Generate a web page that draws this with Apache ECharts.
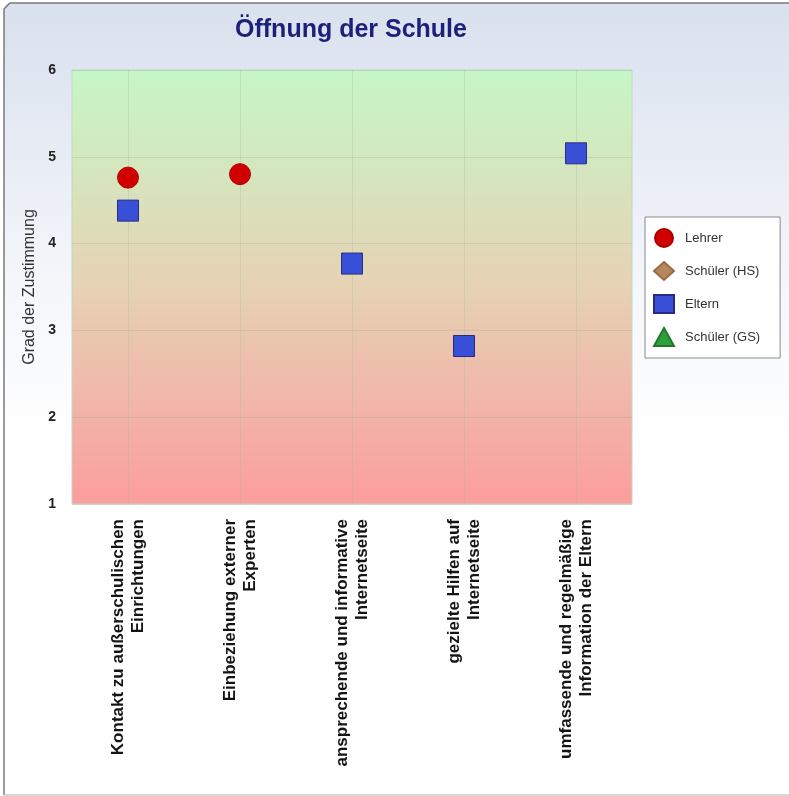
<!DOCTYPE html>
<html>
<head>
<meta charset="utf-8">
<script src="https://cdn.jsdelivr.net/npm/echarts@6/dist/echarts.min.js"></script>
<style>
  html, body { margin: 0; padding: 0; background: #ffffff; }
  #chart { width: 789px; height: 796px; }
</style>
</head>
<body>
<div id="chart"></div>
<script>
// Categories (x axis), two lines each
const categories = [
  'Kontakt zu außerschulischen\nEinrichtungen',
  'Einbeziehung externer\nExperten',
  'ansprechende und informative\nInternetseite',
  'gezielte Hilfen auf\nInternetseite',
  'umfassende und regelmäßige\nInformation der Eltern'
];

// Mean agreement per group (null = no value)
const lehrer = [4.76, 4.80, null, null, null];
const schuelerHS = [null, null, null, null, null];
const eltern = [4.38, null, 3.77, 2.82, 5.04];
const schuelerGS = [null, null, null, null, null];

// Y axis range
const yMin = 1;
const yMax = 6;
const yStep = 1;

const chart = echarts.init(document.getElementById('chart'), null, { renderer: 'canvas' });

const FONT = 'Arial, "Liberation Sans", sans-serif';

const option = {
  animation: false,
  textStyle: { fontFamily: FONT },
  graphic: [
    {
      type: 'rect',
      z: -10,
      silent: true,
      shape: { x: 4, y: 3, width: 785, height: 792, r: [6, 0, 0, 0] },
      style: {
        fill: new echarts.graphic.LinearGradient(0, 0, 0, 1, [
          { offset: 0, color: '#d9e1ee' },
          { offset: 0.35, color: '#f4f6fa' },
          { offset: 0.55, color: '#ffffff' },
          { offset: 1, color: '#ffffff' }
        ]),
        stroke: null
      }
    },
    {
      type: 'polyline',
      z: -9,
      silent: true,
      shape: { points: [[4, 795], [4, 9], [10, 3], [789, 3]] },
      style: { stroke: '#7a7a7a', lineWidth: 1.5, fill: null }
    },
    {
      type: 'line',
      z: -9,
      silent: true,
      shape: { x1: 4, y1: 795, x2: 789, y2: 795 },
      style: { stroke: '#c8c8c8', lineWidth: 1.5 }
    }
  ],
  title: {
    text: 'Öffnung der Schule',
    left: 346,
    textAlign: 'center',
    top: 13,
    textStyle: {
      fontFamily: FONT,
      fontSize: 25,
      fontWeight: 'bold',
      color: '#1c1f7c'
    }
  },
  legend: {
    orient: 'vertical',
    left: 645,
    top: 217,
    padding: [11, 20, 11, 8],
    itemGap: 13,
    itemWidth: 20,
    itemHeight: 18,
    backgroundColor: '#ffffff',
    borderColor: '#8a8a8a',
    borderWidth: 1,
    textStyle: { fontFamily: FONT, fontSize: 13, color: '#333333', padding: [0, 0, 0, 6] },
    data: ['Lehrer', 'Schüler (HS)', 'Eltern', 'Schüler (GS)']
  },
  grid: {
    left: 72,
    right: 157,
    top: 70,
    bottom: 292,
    show: true,
    borderColor: '#c4d6c4',
    borderWidth: 1,
    backgroundColor: new echarts.graphic.LinearGradient(0, 0, 0, 1, [
      { offset: 0, color: '#c6f7c6' },
      { offset: 0.5, color: '#e6d2b4' },
      { offset: 1, color: '#fb9d9d' }
    ])
  },
  xAxis: {
    type: 'category',
    data: categories,
    boundaryGap: true,
    axisLine: { show: false },
    axisTick: { show: false, alignWithLabel: true },
    splitLine: {
      show: true,
      alignWithLabel: true,
      lineStyle: { color: 'rgba(160,180,160,0.28)', width: 1 }
    },
    axisLabel: {
      rotate: 90,
      interval: 0,
      margin: 15,
      fontFamily: FONT,
      fontSize: 17,
      fontWeight: 'bold',
      lineHeight: 20,
      color: '#141414'
    }
  },
  yAxis: {
    type: 'value',
    min: yMin,
    max: yMax,
    interval: yStep,
    name: 'Grad der Zustimmung',
    nameLocation: 'middle',
    nameGap: 29,
    nameTextStyle: { fontFamily: FONT, fontSize: 16, color: '#333333' },
    axisLine: { show: false },
    axisTick: { show: false },
    splitLine: {
      show: true,
      lineStyle: { color: 'rgba(150,170,150,0.3)', width: 1 }
    },
    axisLabel: {
      margin: 16,
      fontFamily: FONT,
      fontSize: 14,
      fontWeight: 'bold',
      color: '#222222'
    }
  },
  series: [
    {
      name: 'Lehrer',
      type: 'scatter',
      symbol: 'circle',
      symbolSize: 21,
      data: lehrer,
      itemStyle: { color: '#d00000', borderColor: '#a80000', borderWidth: 1, opacity: 1 },
      z: 3
    },
    {
      name: 'Schüler (HS)',
      type: 'scatter',
      symbol: 'diamond',
      symbolSize: 20,
      data: schuelerHS,
      itemStyle: { color: '#b8865c', borderColor: '#9a6c44', borderWidth: 1, opacity: 1 }
    },
    {
      name: 'Eltern',
      type: 'scatter',
      symbol: 'rect',
      symbolSize: 21,
      data: eltern,
      itemStyle: { color: '#3a4fd8', borderColor: '#262d80', borderWidth: 1, opacity: 1 },
      z: 4
    },
    {
      name: 'Schüler (GS)',
      type: 'scatter',
      symbol: 'triangle',
      symbolSize: 20,
      data: schuelerGS,
      itemStyle: { color: '#2f9e3c', borderColor: '#217a2c', borderWidth: 1, opacity: 1 }
    }
  ]
};

chart.setOption(option);
</script>
</body>
</html>
